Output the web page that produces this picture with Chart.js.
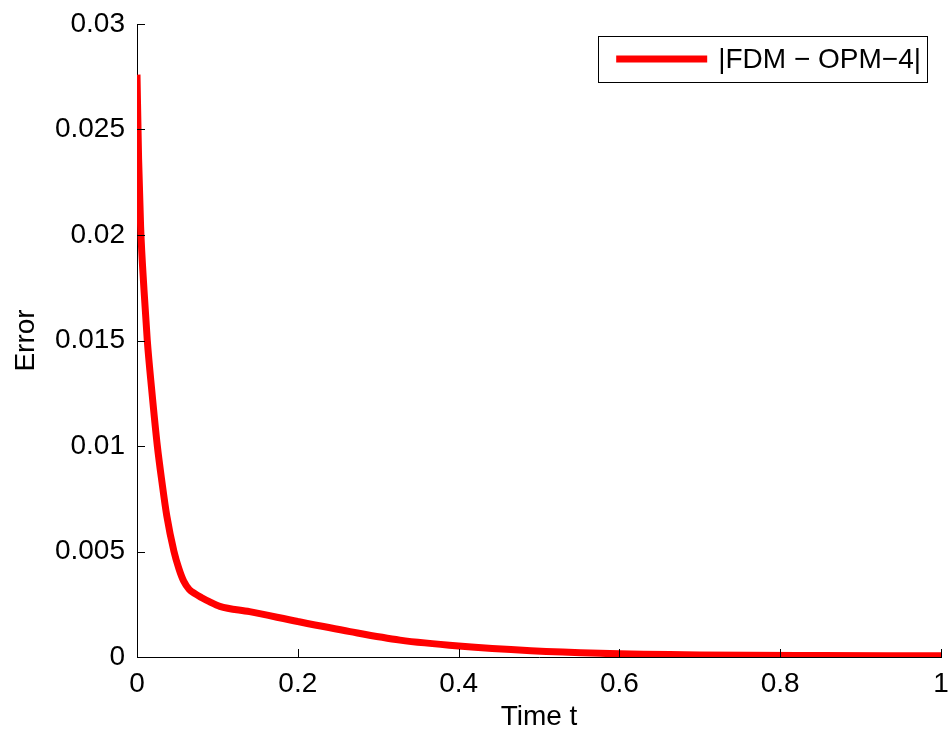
<!DOCTYPE html>
<html>
<head>
<meta charset="utf-8">
<script src="https://cdn.jsdelivr.net/npm/chart.js@4/dist/chart.umd.min.js"></script>
<style>
  html, body { margin: 0; padding: 0; background: #fff; }
  #wrap { width: 951px; height: 738px; }
</style>
</head>
<body>
<div id="wrap"><canvas id="chart" width="951" height="738"></canvas></div>
<script>
const ctx = document.getElementById("chart").getContext("2d");

// values
const timeT = [0, 0.002, 0.0045, 0.0087, 0.0128, 0.0182, 0.0253, 0.031, 0.037, 0.046,
    0.052, 0.058, 0.065, 0.072, 0.080, 0.09, 0.103, 0.14, 0.2, 0.265, 0.327, 0.4, 0.49,
    0.576, 0.7, 0.85, 1];
const errorVals = [0.0276, 0.0236, 0.0204, 0.0174, 0.0150, 0.0127, 0.0100, 0.0083, 0.0067, 0.0050,
    0.0042, 0.0036, 0.0032, 0.0030, 0.00282, 0.00262, 0.00240, 0.00215, 0.00168, 0.00120,
    0.00080, 0.00052, 0.00030, 0.00018, 0.00010, 0.00007, 0.00006];

const xTicks = [0, 0.2, 0.4, 0.6, 0.8, 1];
const xTickLabels = ["0", "0.2", "0.4", "0.6", "0.8", "1"];
const yTicks = [0, 0.005, 0.01, 0.015, 0.02, 0.025, 0.03];
const yTickLabels = ["0", "0.005", "0.01", "0.015", "0.02", "0.025", "0.03"];

const seriesLabel = "|FDM \u2212 OPM\u22124|";
const lineColor = "#ff0000";
const fontFamily = "'Liberation Sans', Arial, Helvetica, sans-serif";
const fontSize = 28;
const tickLen = 8;

// MATLAB style ticks pointing into the plot
const innerTicks = {
    id: "innerTicks",
    afterDraw(chart) {
        const c = chart.ctx;
        const xs = chart.scales.x, ys = chart.scales.y;
        const area = chart.chartArea;
        c.save();
        c.strokeStyle = "#000";
        c.lineWidth = 1;
        c.beginPath();
        xTicks.forEach(v => {
            const px = Math.round(xs.getPixelForValue(v)) + 0.5;
            c.moveTo(px, area.bottom);
            c.lineTo(px, area.bottom - tickLen);
        });
        yTicks.forEach(v => {
            const py = Math.round(ys.getPixelForValue(v)) + 0.5;
            c.moveTo(area.left, py);
            c.lineTo(area.left + tickLen, py);
        });
        c.stroke();
        c.restore();
    }
};

// boxed legend in the top right corner
const boxLegend = {
    id: "boxLegend",
    afterDraw(chart) {
        const c = chart.ctx;
        const area = chart.chartArea;
        const ds = chart.data.datasets[0];
        c.save();
        c.font = fontSize + "px " + fontFamily;
        const tw = c.measureText(ds.label).width;
        const w = 18 + 91 + 11 + tw + 6;
        const h = 46;
        const right = area.right - 14;
        const left = right - w;
        const top = area.top + 12;
        c.fillStyle = "#fff";
        c.fillRect(left, top, w, h);
        c.strokeStyle = "#000";
        c.lineWidth = 1;
        c.strokeRect(Math.round(left) + 0.5, Math.round(top) + 0.5, Math.round(w), h);
        c.strokeStyle = ds.borderColor;
        c.lineWidth = 7;
        c.beginPath();
        c.moveTo(left + 18, top + h / 2);
        c.lineTo(left + 18 + 91, top + h / 2);
        c.stroke();
        c.fillStyle = "#000";
        c.textBaseline = "middle";
        c.textAlign = "left";
        c.fillText(ds.label, left + 18 + 91 + 11, top + h / 2 + 1);
        c.restore();
    }
};

window.errorChart = new Chart(ctx, {
    type: "line",
    data: {
        datasets: [
            {
                label: seriesLabel,
                data: timeT.map((t, i) => ({ x: t, y: errorVals[i] })),
                borderColor: lineColor,
                backgroundColor: lineColor,
                borderWidth: 7,
                pointRadius: 0,
                fill: false,
                cubicInterpolationMode: "monotone"
            }
        ]
    },
    options: {
        responsive: false,
        animation: false,
        layout: { padding: { left: 0, right: 10, top: 24, bottom: 0 } },
        plugins: {
            legend: { display: false },
            tooltip: { enabled: false }
        },
        scales: {
            x: {
                type: "linear",
                min: 0,
                max: 1,
                afterBuildTicks: (s) => { s.ticks = xTicks.map(v => ({ value: v })); },
                afterFit: (s) => {
                    s.height = 81;
                    s.paddingLeft = 0;
                    s.paddingRight = 0;
                },
                ticks: {
                    color: "#000",
                    padding: 10,
                    maxRotation: 0,
                    font: { family: fontFamily, size: fontSize },
                    callback: (v, i) => xTickLabels[i]
                },
                grid: { display: false, drawTicks: false },
                border: { display: true, color: "#000", width: 1 },
                title: {
                    display: true,
                    text: "Time t",
                    color: "#000",
                    font: { family: fontFamily, size: fontSize },
                    padding: { top: 0, bottom: 4 }
                }
            },
            y: {
                type: "linear",
                min: 0,
                max: 0.03,
                afterBuildTicks: (s) => { s.ticks = yTicks.map(v => ({ value: v })); },
                afterFit: (s) => {
                    s.width = 137;
                    s.paddingTop = 0;
                    s.paddingBottom = 0;
                },
                ticks: {
                    color: "#000",
                    padding: 12,
                    font: { family: fontFamily, size: fontSize },
                    callback: (v, i) => yTickLabels[i]
                },
                grid: { display: false, drawTicks: false },
                border: { display: true, color: "#000", width: 1 },
                title: {
                    display: true,
                    text: "Error",
                    color: "#000",
                    font: { family: fontFamily, size: fontSize },
                    padding: { top: 9, bottom: 0 }
                }
            }
        }
    },
    plugins: [innerTicks, boxLegend]
});
</script>
</body>
</html>
